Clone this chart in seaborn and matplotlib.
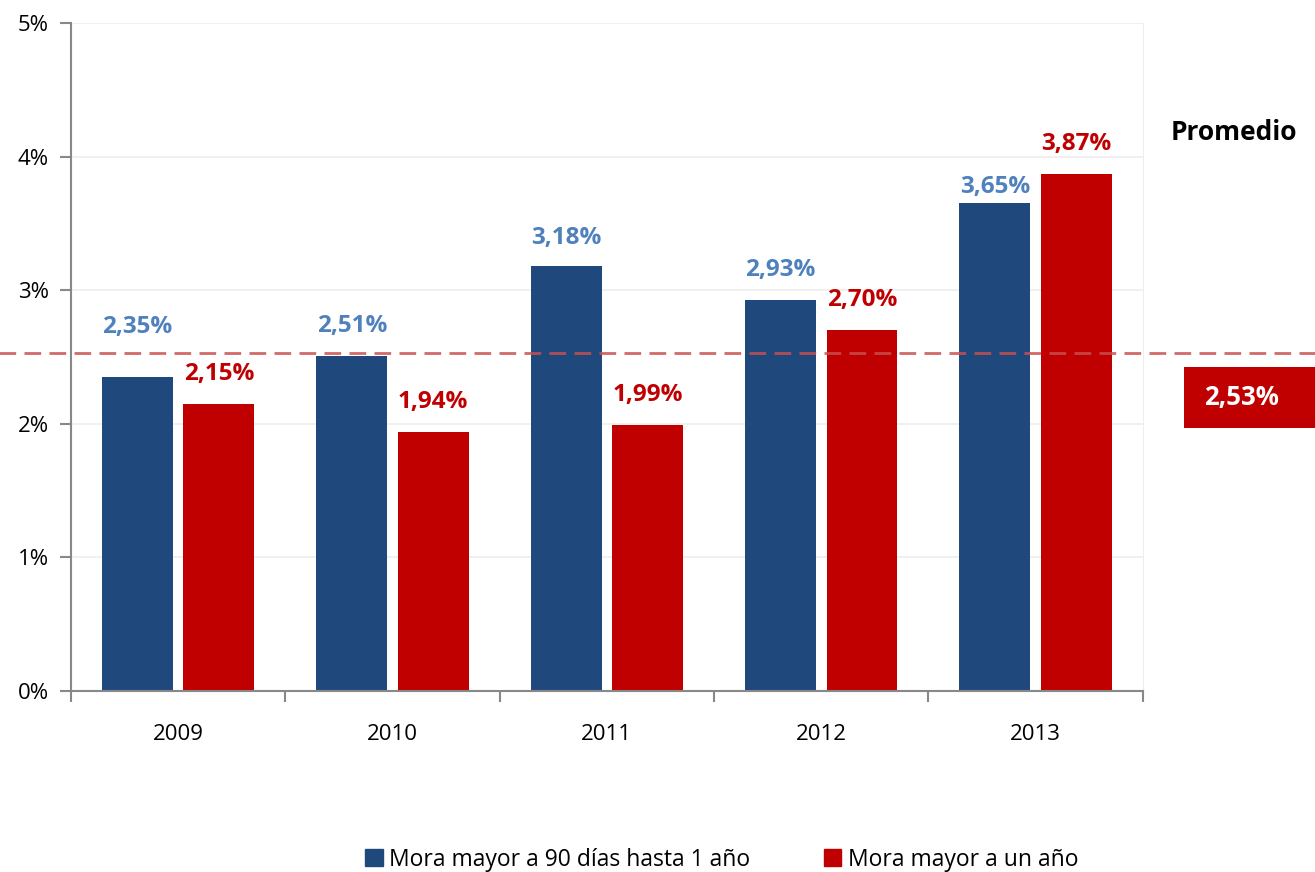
import pandas as pd
import matplotlib
matplotlib.use("Agg")
import matplotlib.pyplot as plt
import seaborn as sns
from matplotlib.patches import Rectangle

# datos
anios = ["2009", "2010", "2011", "2012", "2013"]
mora_90 = [2.35, 2.51, 3.18, 2.93, 3.65]
mora_anio = [2.15, 1.94, 1.99, 2.70, 3.87]
promedio = 2.53
serie_90 = "Mora mayor a 90 días hasta 1 año"
serie_anio = "Mora mayor a un año"

df = pd.DataFrame({
    "anio": anios * 2,
    "valor": mora_90 + mora_anio,
    "serie": [serie_90] * len(anios) + [serie_anio] * len(anios),
})

azul = "#1F497D"
rojo = "#C00000"
azul_txt = "#4F81BD"

sns.set_style("white")
plt.rcParams["font.family"] = ["Open Sans", "DejaVu Sans"]
plt.rcParams["text.color"] = "black"

fig = plt.figure(figsize=(13.15, 8.72), dpi=100)
ax = fig.add_axes([0.054, 0.2076, 0.815, 0.766])

sns.barplot(data=df, x="anio", y="valor", hue="serie",
            palette=[azul, rojo], saturation=1, width=0.76, gap=0.13,
            linewidth=0, ax=ax, legend=False)

ax.set_ylim(0, 5)
ax.set_xlim(-0.5, len(anios) - 0.5)
ax.set_yticks(range(6))
ax.set_yticklabels([f"{i}%" for i in range(6)], fontsize=16, color="black")
ax.set_xticks(range(len(anios)))
ax.set_xticklabels(anios, fontsize=16, color="black")
ax.tick_params(axis="x", which="major", length=0, pad=24)
ax.tick_params(axis="y", which="major", length=8, width=1.5, color="#888888",
               direction="out", left=True, pad=8)
# marcas en los limites de categoria
ax.set_xticks([i - 0.5 for i in range(len(anios) + 1)], minor=True)
ax.tick_params(axis="x", which="minor", length=8, width=1.5, color="#888888",
               direction="out", bottom=True)
ax.set_xlabel("")
ax.set_ylabel("")

ax.grid(axis="y", color="#EEEEEE", linewidth=1.2)
ax.set_axisbelow(True)
for s in ["left", "bottom"]:
    ax.spines[s].set_color("#888888")
    ax.spines[s].set_linewidth(1.5)
ax.spines["top"].set_visible(False)
ax.spines["right"].set_color("#EEEEEE")

# etiquetas de datos
desp_90 = [50, 30, 28, 30, 16]
desp_anio = [30, 30, 30, 30, 30]
for i in range(len(anios)):
    ax.annotate(f"{mora_90[i]:.2f}%".replace(".", ","), (i - 0.19, mora_90[i]),
                xytext=(0, desp_90[i]), textcoords="offset pixels",
                ha="center", va="center", fontsize=17.5, fontweight="bold", color=azul_txt)
    ax.annotate(f"{mora_anio[i]:.2f}%".replace(".", ","), (i + 0.19, mora_anio[i]),
                xytext=(0, desp_anio[i]), textcoords="offset pixels",
                ha="center", va="center", fontsize=17.5, fontweight="bold", color=rojo)

# linea de promedio
ax.axhline(promedio, xmin=-0.07, xmax=1.23, clip_on=False,
           color="#C9504F", alpha=0.85, linewidth=2, dashes=(6, 3))

fig.text(0.9385, 0.848, "Promedio", ha="center", va="center",
         fontsize=19, fontweight="bold", color="black")
fig.patches.append(Rectangle((0.9, 0.509), 0.1, 0.07, transform=fig.transFigure,
                             facecolor=rojo, edgecolor="none"))
fig.text(0.944, 0.544, f"{promedio:.2f}%".replace(".", ","), ha="center", va="center",
         fontsize=18.5, fontweight="bold", color="white")

# leyenda
handles = [Rectangle((0, 0), 1, 1, color=azul), Rectangle((0, 0), 1, 1, color=rojo)]
fig.legend(handles, [serie_90, serie_anio], loc="center", bbox_to_anchor=(0.549, 0.014),
           ncol=2, frameon=False, fontsize=16.5, handlelength=0.75, handleheight=0.75,
           handletextpad=0.3, columnspacing=3.2)

fig.savefig("out.png", dpi=100)
